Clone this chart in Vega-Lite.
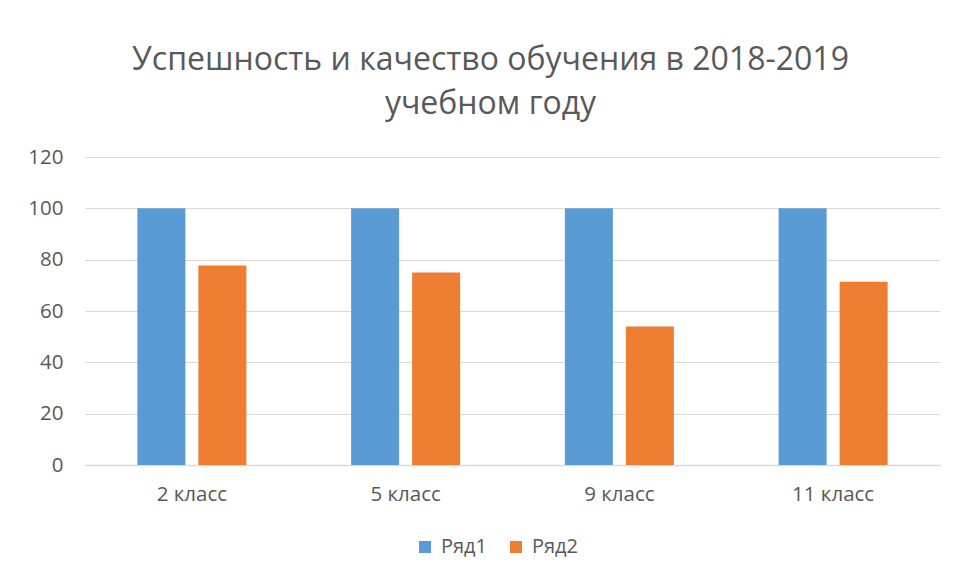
{
  "$schema": "https://vega.github.io/schema/vega-lite/v6.json",
  "autosize": {"type": "none"},
  "padding": {"left": 85, "top": 157, "right": 18, "bottom": 116},
  "width": 855,
  "height": 308,
  "background": "white",
  "config": {
    "view": {"stroke": null},
    "font": "Open Sans",
    "title": {"fontSize": 32, "fontWeight": "normal", "color": "#595959", "font": "Open Sans", "lineHeight": 44, "anchor": "middle", "offset": 26, "dx": -22}
  },
  "title": {"text": ["Успешность и качество обучения в 2018-2019", "учебном году"]},
  "data": {
    "values": [
      {"class": "2 класс", "series": "Ряд1", "value": 100},
      {"class": "2 класс", "series": "Ряд2", "value": 77.7},
      {"class": "5 класс", "series": "Ряд1", "value": 100},
      {"class": "5 класс", "series": "Ряд2", "value": 75},
      {"class": "9 класс", "series": "Ряд1", "value": 100},
      {"class": "9 класс", "series": "Ряд2", "value": 54},
      {"class": "11 класс", "series": "Ряд1", "value": 100},
      {"class": "11 класс", "series": "Ряд2", "value": 71.4}
    ]
  },
  "mark": {"type": "bar"},
  "encoding": {
    "x": {
      "field": "class", "type": "nominal", "sort": ["2 класс", "5 класс", "9 класс", "11 класс"],
      "scale": {"paddingInner": 0.49, "paddingOuter": 0.245},
      "axis": {"title": null, "labelAngle": 0, "labelFontSize": 20.5, "labelColor": "#595959", "labelPadding": 19, "ticks": false, "domainColor": "#d9d9d9", "domainWidth": 1.5}
    },
    "xOffset": {"field": "series", "type": "nominal", "scale": {"paddingInner": 0.213, "paddingOuter": 0}},
    "y": {
      "field": "value", "type": "quantitative",
      "scale": {"domain": [0, 120]},
      "axis": {"title": null, "values": [0, 20, 40, 60, 80, 100, 120], "labelFontSize": 20.5, "labelColor": "#595959", "labelPadding": 22, "ticks": false, "domain": false, "gridColor": "#d9d9d9", "gridWidth": 1.2}
    },
    "color": {
      "field": "series", "type": "nominal",
      "scale": {"domain": ["Ряд1", "Ряд2"], "range": ["#5B9BD5", "#ED7D31"]},
      "legend": {"title": null, "orient": "none", "legendX": 330, "legendY": 380, "direction": "horizontal", "labelFontSize": 20, "labelColor": "#595959", "symbolType": "square", "symbolSize": 144, "symbolStrokeWidth": 0, "columnPadding": 18, "labelOffset": 6}
    }
  }
}
